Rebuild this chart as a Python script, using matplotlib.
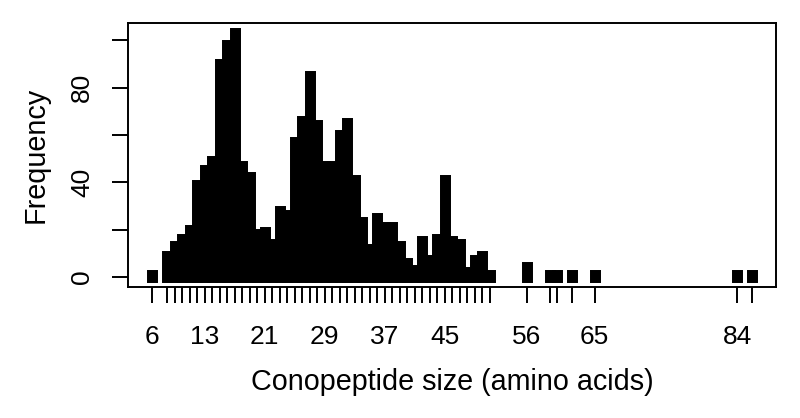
import matplotlib
matplotlib.use('Agg')
import matplotlib.pyplot as plt

plt.rcParams['font.family'] = ['Liberation Sans', 'DejaVu Sans']

# Conopeptide sizes (amino acids) present in the data and their counts
sizes = [6, 8, 9, 10, 11, 12, 13, 14, 15, 16, 17, 18, 19, 20, 21, 22, 23, 24, 25,
         26, 27, 28, 29, 30, 31, 32, 33, 34, 35, 36, 37, 38, 39, 40, 41, 42, 43,
         44, 45, 46, 47, 48, 49, 50, 51, 56, 59, 60, 62, 65, 84, 86]
counts = [1, 9, 13, 16, 20, 39, 45, 49, 90, 98, 103, 47, 42, 18, 19, 14, 28, 26, 57,
          66, 85, 64, 47, 47, 60, 65, 41, 23, 12, 25, 21, 21, 13, 6, 3, 15, 7,
          16, 41, 15, 14, 2, 7, 9, 1, 4, 1, 1, 1, 1, 1, 1]

# only some tick labels are shown (the rest overlap in the original)
shown_labels = [6, 13, 21, 29, 37, 45, 56, 65, 84]
y_ticks = [0, 20, 40, 60, 80, 100]
y_labels = ['0', '', '40', '', '80', '']

fig = plt.figure(figsize=(8, 4.18), dpi=100)
ax = fig.add_axes([0.16, 0.3141, 0.81, 0.6302])

# table-style plot: thick vertical lines with square ends
ax.vlines(sizes, 0, counts, colors='black', linewidth=7.9, capstyle='projecting')

ax.set_xlim(sizes[0] - 0.04 * (sizes[-1] - sizes[0]), sizes[-1] + 0.04 * (sizes[-1] - sizes[0]))
ax.set_ylim(-0.04 * max(counts), 1.04 * max(counts))

ax.set_xticks(sizes)
ax.set_xticklabels([str(s) if s in shown_labels else '' for s in sizes])
ax.set_yticks(y_ticks)
ax.set_yticklabels(y_labels)
for lab in ax.get_yticklabels():
    lab.set_rotation(90)
    lab.set_va('center')

ax.tick_params(axis='both', direction='out', length=11.5, width=1.4, labelsize=19, colors='black')
ax.tick_params(axis='x', pad=16)
ax.tick_params(axis='y', pad=13)
for sp in ax.spines.values():
    sp.set_linewidth(1.4)
    sp.set_color('black')

ax.set_xlabel('Conopeptide size (amino acids)', fontsize=20.7, va='center')
ax.xaxis.set_label_coords(0.5, -0.36)
ax.set_ylabel('Frequency', fontsize=20.7, va='center')
ax.yaxis.set_label_coords(-0.1423, 0.5)

plt.savefig('out.png', dpi=100)
